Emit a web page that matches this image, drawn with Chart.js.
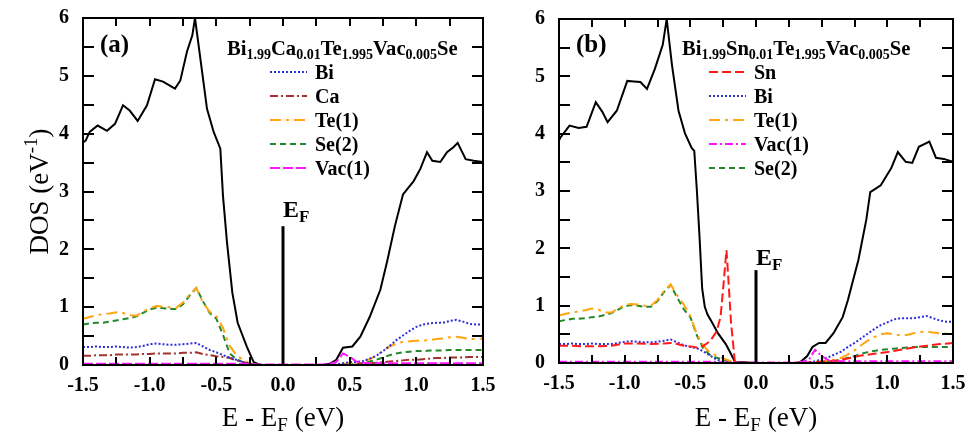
<!DOCTYPE html>
<html>
<head>
<meta charset="utf-8">
<script src="https://cdn.jsdelivr.net/npm/chart.js@4.4.0/dist/chart.umd.min.js"></script>
<style>
  html, body { margin: 0; padding: 0; background: #fff; }
  #wrap { position: relative; width: 970px; height: 438px; overflow: hidden; }
  .pane { position: absolute; top: 0; }
  .pane canvas { position: absolute; left: 0; top: 0; }
  .frame { position: absolute; box-sizing: border-box; border: 2px solid #000; }
  .tk { position: absolute; background: #000; }
</style>
</head>
<body>
<div id="wrap">
  <div class="pane" id="paneA" style="left:0;width:520px;height:438px">
    <canvas id="panelA" width="520" height="438"></canvas>
    <canvas id="overA" width="520" height="438"></canvas>
  </div>
  <div class="pane" id="paneB" style="left:490px;width:480px;height:438px">
    <canvas id="panelB" width="480" height="438"></canvas>
    <canvas id="overB" width="480" height="438"></canvas>
  </div>
</div>
<script>
const SERIF = '"Liberation Serif", "Times New Roman", serif';

// --- axes: labelled ticks and all tick marks ---
const xTicks = [-1.5, -1.0, -0.5, 0.0, 0.5, 1.0, 1.5];
const yTicks = [0, 1, 2, 3, 4, 5, 6];
const xTickPos = [-1.5, -1.25, -1.0, -0.75, -0.5, -0.25, 0.0, 0.25, 0.5, 0.75, 1.0, 1.25, 1.5];
const yTickPos = [0, 0.5, 1, 1.5, 2, 2.5, 3, 3.5, 4, 4.5, 5, 5.5, 6];

// --- energy grid for the projected DOS (eV) ---
const energy = [
  -1.50, -1.45, -1.40, -1.35, -1.30, -1.25, -1.20, -1.15, -1.10, -1.05,
  -1.00, -0.95, -0.90, -0.85, -0.80, -0.75, -0.70, -0.65, -0.60, -0.55,
  -0.50, -0.45, -0.40, -0.35, -0.30, -0.25, -0.20, -0.15, -0.10, -0.05,
   0.00,  0.05,  0.10,  0.15,  0.20,  0.25,  0.30,  0.35,  0.40,  0.45,
   0.50,  0.55,  0.60,  0.65,  0.70,  0.75,  0.80,  0.85,  0.90,  0.95,
   1.00,  1.05,  1.10,  1.15,  1.20,  1.25,  1.30,  1.35,  1.40,  1.45,
   1.50
];

// --- (a) Bi1.99Ca0.01Te1.995Vac0.005Se ---
const eTotalA = [-1.5, -1.48, -1.45, -1.39, -1.32, -1.26, -1.2, -1.15, -1.09, -1.02, -0.96, -0.9, -0.81, -0.77,
  -0.72, -0.68, -0.66, -0.62, -0.57, -0.52, -0.47, -0.45, -0.42, -0.38, -0.34, -0.27, -0.22, -0.17, 0.0, 0.3,
  0.35, 0.4, 0.45, 0.52, 0.58, 0.65, 0.73, 0.78, 0.84, 0.9, 0.98, 1.03, 1.08, 1.12, 1.18, 1.23, 1.28, 1.31,
  1.37, 1.43, 1.5];
const totalA = [3.85, 3.88, 4.03, 4.14, 4.05, 4.17, 4.49, 4.40, 4.22, 4.49, 4.94, 4.90, 4.78, 4.92,
  5.42, 5.70, 6.00, 5.30, 4.43, 4.03, 3.74, 2.92, 2.12, 1.25, 0.73, 0.31, 0.05, 0.00, 0.00, 0.00,
  0.02, 0.09, 0.30, 0.32, 0.49, 0.83, 1.30, 1.78, 2.41, 2.95, 3.18, 3.39, 3.68, 3.53, 3.51, 3.68, 3.77, 3.84,
  3.56, 3.53, 3.51];
const biA = [
  0.31, 0.31, 0.32, 0.31, 0.31, 0.32, 0.31, 0.30, 0.31, 0.33,
  0.36, 0.37, 0.36, 0.35, 0.35, 0.36, 0.37, 0.38, 0.32, 0.26,
  0.22, 0.17, 0.13, 0.09, 0.05, 0.02, 0.01, 0, 0, 0,
  0, 0, 0, 0, 0, 0, 0, 0, 0.01, 0.03,
  0.05, 0.05, 0.07, 0.11, 0.16, 0.24, 0.33, 0.43, 0.51, 0.59,
  0.66, 0.70, 0.72, 0.73, 0.73, 0.76, 0.78, 0.75, 0.71, 0.70,
  0.70];
const caA = [
  0.16, 0.16, 0.17, 0.17, 0.17, 0.18, 0.18, 0.18, 0.18, 0.19,
  0.19, 0.20, 0.20, 0.20, 0.20, 0.21, 0.21, 0.22, 0.19, 0.17,
  0.15, 0.14, 0.12, 0.08, 0.05, 0.02, 0, 0, 0, 0,
  0, 0, 0, 0, 0, 0, 0, 0, 0, 0,
  0, 0.01, 0.02, 0.03, 0.04, 0.05, 0.06, 0.07, 0.08, 0.09,
  0.09, 0.10, 0.11, 0.12, 0.12, 0.13, 0.13, 0.13, 0.14, 0.14,
  0.14];
const te1A = [
  0.80, 0.83, 0.86, 0.88, 0.89, 0.91, 0.90, 0.86, 0.85, 0.92,
  0.98, 1.02, 1.01, 1.00, 0.99, 1.08, 1.22, 1.33, 1.08, 0.92,
  0.85, 0.64, 0.33, 0.17, 0.09, 0.03, 0.01, 0, 0, 0,
  0, 0, 0, 0, 0, 0, 0, 0, 0.01, 0.02,
  0.03, 0.04, 0.06, 0.10, 0.16, 0.25, 0.32, 0.37, 0.40, 0.41,
  0.42, 0.42, 0.43, 0.45, 0.46, 0.48, 0.49, 0.47, 0.45, 0.45,
  0.46];
const se2A = [
  0.70, 0.72, 0.73, 0.73, 0.75, 0.77, 0.79, 0.81, 0.84, 0.90,
  0.96, 0.99, 0.98, 0.97, 0.97, 1.05, 1.20, 1.33, 1.10, 0.90,
  0.80, 0.52, 0.20, 0.10, 0.05, 0.02, 0.01, 0, 0, 0,
  0, 0, 0, 0, 0, 0, 0, 0, 0, 0,
  0.01, 0.02, 0.04, 0.06, 0.09, 0.13, 0.17, 0.20, 0.22, 0.23,
  0.24, 0.24, 0.25, 0.25, 0.25, 0.26, 0.26, 0.26, 0.26, 0.26,
  0.26];
const vac1A = [
  0.02, 0.02, 0.02, 0.02, 0.02, 0.02, 0.02, 0.02, 0.02, 0.02,
  0.02, 0.02, 0.02, 0.02, 0.02, 0.02, 0.02, 0.02, 0.02, 0.02,
  0.02, 0.02, 0.02, 0.02, 0.02, 0.01, 0.01, 0.01, 0.01, 0.01,
  0.01, 0.01, 0.01, 0.01, 0.01, 0.01, 0.01, 0.02, 0.05, 0.20,
  0.14, 0.06, 0.04, 0.03, 0.03, 0.03, 0.03, 0.03, 0.03, 0.03,
  0.03, 0.03, 0.03, 0.03, 0.03, 0.03, 0.03, 0.03, 0.03, 0.03,
  0.03];
const fermiA = [0, 2.4];

// --- (b) Bi1.99Sn0.01Te1.995Vac0.005Se ---
const eTotalB = [-1.5, -1.49, -1.42, -1.35, -1.29, -1.22, -1.17, -1.13, -1.06, -0.98, -0.93, -0.88, -0.83, -0.77,
  -0.71, -0.68, -0.64, -0.59, -0.54, -0.49, -0.47, -0.45, -0.43, -0.41, -0.39, -0.37, -0.33, -0.29, -0.23, -0.2,
  -0.16, 0.0, 0.3, 0.34, 0.39, 0.43, 0.48, 0.53, 0.59, 0.66, 0.7, 0.78, 0.84, 0.87, 0.95, 1.03, 1.08, 1.14,
  1.19, 1.24, 1.32, 1.37, 1.43, 1.5];
const totalB = [3.88, 3.93, 4.14, 4.10, 4.12, 4.55, 4.38, 4.20, 4.40, 4.92, 4.91, 4.90, 4.78, 5.13,
  5.55, 6.00, 5.20, 4.40, 4.00, 3.75, 3.70, 3.00, 2.20, 1.30, 0.98, 0.85, 0.69, 0.52, 0.33, 0.20,
  0.02, 0.00, 0.00, 0.02, 0.12, 0.28, 0.35, 0.35, 0.52, 0.80, 1.10, 1.80, 2.50, 2.98, 3.10, 3.40, 3.68, 3.51,
  3.49, 3.77, 3.86, 3.58, 3.56, 3.51];
const eSn = [-1.5, -1.4, -1.3, -1.2, -1.1, -1.0, -0.9, -0.8, -0.7, -0.65, -0.6, -0.55, -0.5, -0.45, -0.4, -0.35,
  -0.3, -0.27, -0.25, -0.225, -0.21, -0.19, -0.16, -0.1, 0.0, 0.1, 0.2, 0.3, 0.4, 0.5, 0.6, 0.7, 0.8, 0.9,
  1.0, 1.1, 1.2, 1.3, 1.4, 1.5];
const snB = [0.30, 0.30, 0.29, 0.29, 0.30, 0.34, 0.34, 0.33, 0.34, 0.35, 0.33, 0.30, 0.29, 0.27, 0.30, 0.38,
  0.55, 0.80, 1.30, 1.97, 1.45, 0.70, 0.00, 0, 0, 0, 0, 0, 0.01, 0.02, 0.04, 0.08, 0.13, 0.16,
  0.19, 0.23, 0.27, 0.30, 0.33, 0.35];
const biB = [
  0.33, 0.33, 0.34, 0.33, 0.33, 0.34, 0.33, 0.33, 0.33, 0.35,
  0.37, 0.38, 0.37, 0.36, 0.36, 0.37, 0.39, 0.41, 0.36, 0.31,
  0.28, 0.26, 0.20, 0.13, 0.06, 0.02, 0.01, 0, 0, 0,
  0, 0, 0, 0, 0, 0, 0, 0, 0.01, 0.03,
  0.06, 0.10, 0.15, 0.20, 0.28, 0.35, 0.43, 0.51, 0.59, 0.66,
  0.71, 0.76, 0.78, 0.78, 0.78, 0.80, 0.82, 0.78, 0.74, 0.72,
  0.72];
const te1B = [
  0.83, 0.86, 0.88, 0.90, 0.92, 0.95, 0.93, 0.88, 0.88, 0.95,
  1.01, 1.03, 1.02, 1.00, 1.00, 1.10, 1.26, 1.37, 1.18, 1.02,
  0.82, 0.50, 0.30, 0.18, 0.13, 0.08, 0.04, 0.01, 0, 0,
  0, 0, 0, 0, 0, 0, 0, 0, 0.01, 0.02,
  0.03, 0.04, 0.06, 0.09, 0.15, 0.22, 0.31, 0.39, 0.45, 0.50,
  0.52, 0.50, 0.48, 0.49, 0.52, 0.54, 0.55, 0.53, 0.52, 0.51,
  0.51];
const vac1B = [
  0.02, 0.02, 0.02, 0.02, 0.02, 0.02, 0.02, 0.02, 0.02, 0.02,
  0.02, 0.02, 0.02, 0.02, 0.02, 0.02, 0.02, 0.02, 0.02, 0.02,
  0.02, 0.02, 0.02, 0.02, 0.02, 0.01, 0.01, 0.01, 0.01, 0.01,
  0.01, 0.01, 0.01, 0.01, 0.01, 0.01, 0.01, 0.02, 0.05, 0.23,
  0.12, 0.05, 0.04, 0.03, 0.03, 0.03, 0.03, 0.03, 0.03, 0.03,
  0.03, 0.03, 0.03, 0.03, 0.03, 0.03, 0.03, 0.03, 0.03, 0.03,
  0.03];
const se2B = [
  0.73, 0.75, 0.77, 0.77, 0.78, 0.80, 0.81, 0.84, 0.87, 0.93,
  0.99, 1.01, 1.00, 0.98, 0.98, 1.08, 1.24, 1.36, 1.14, 0.94,
  0.80, 0.48, 0.25, 0.14, 0.09, 0.06, 0.02, 0.01, 0, 0,
  0, 0, 0, 0, 0, 0, 0, 0, 0, 0,
  0.01, 0.02, 0.03, 0.06, 0.09, 0.12, 0.16, 0.19, 0.21, 0.23,
  0.24, 0.25, 0.26, 0.27, 0.28, 0.28, 0.28, 0.28, 0.28, 0.28,
  0.28];
const fermiB = [0, 1.62];

const legendA = ["Bi", "Ca", "Te(1)", "Se(2)", "Vac(1)"];
const legendB = ["Sn", "Bi", "Te(1)", "Vac(1)", "Se(2)"];

// line styles per projection
const styles = {
  "Bi":     { color: "#2f2fd8", dash: [2, 2] },
  "Ca":     { color: "#a3302c", dash: [8, 3, 2, 3] },
  "Te(1)":  { color: "#ffa510", dash: [11, 5, 3, 5] },
  "Se(2)":  { color: "#22882a", dash: [6, 4] },
  "Vac(1)": { color: "#ff14ff", dash: [10, 3] },
  "Sn":     { color: "#ff1a1a", dash: [9, 4] }
};

const pts = (xs, ys) => xs.map((x, i) => ({ x, y: ys[i] }));

function pdos(label, xs, ys, dash) {
  const s = styles[label];
  return { label, data: pts(xs, ys), borderColor: s.color, borderWidth: 2,
           borderDash: dash || s.dash, pointRadius: 0, tension: 0, fill: false };
}
function solid(label, xs, ys, w) {
  return { label, data: pts(xs, ys), borderColor: "#000", borderWidth: w,
           pointRadius: 0, tension: 0, fill: false };
}

// text with sub/superscripts, parts = [[text, mode]], baseline at y
function drawRich(ctx, parts, x, y, size, weight, align) {
  const fontFor = s => `${weight} ${s}px ${SERIF}`;
  let w = 0;
  const items = parts.map(([t, m]) => {
    const s = m ? Math.round(size * 0.7) : size;
    ctx.font = fontFor(s);
    const tw = ctx.measureText(t).width;
    w += tw;
    return { t, m, s, tw };
  });
  let cx = align === "center" ? x - w / 2 : x;
  ctx.textAlign = "left";
  ctx.textBaseline = "alphabetic";
  for (const it of items) {
    ctx.font = fontFor(it.s);
    const dy = it.m === "sub" ? size * 0.2 : it.m === "sup" ? -size * 0.42 : 0;
    ctx.fillText(it.t, cx, y + dy);
    cx += it.tw;
  }
}

// box frame and inward ticks as page elements, placed with the chart's scales
function addFrame(chart, paneId) {
  const pane = document.getElementById(paneId);
  const sx = chart.scales.x, sy = chart.scales.y;
  const L = Math.round(sx.getPixelForValue(-1.5)), R = Math.round(sx.getPixelForValue(1.5));
  const T = Math.round(sy.getPixelForValue(6)), B = Math.round(sy.getPixelForValue(0));
  const box = (cls, l, t, w, h) => {
    const d = document.createElement("div");
    d.className = cls;
    d.style.left = l + "px"; d.style.top = t + "px";
    d.style.width = w + "px"; d.style.height = h + "px";
    pane.appendChild(d);
  };
  xTickPos.forEach(v => {
    const px = Math.round(sx.getPixelForValue(v));
    box("tk", px - 1, B - 8, 2, 8);
    box("tk", px - 1, T, 2, 8);
  });
  yTickPos.forEach(v => {
    const py = Math.round(sy.getPixelForValue(v));
    box("tk", L, py - 1, 11, 2);
    box("tk", R - 11, py - 1, 11, 2);
  });
  box("frame", L - 1, T - 1, R - L + 2, B - T + 2);
}

// legend, tag and titles on an overlay, placed with the chart's scales
function decorate(chart, overlayId, o) {
  const ctx = document.getElementById(overlayId).getContext("2d");
  const sx = chart.scales.x, sy = chart.scales.y;
  const L = sx.getPixelForValue(-1.5), R = sx.getPixelForValue(1.5);
  const T = sy.getPixelForValue(6), B = sy.getPixelForValue(0);

  ctx.fillStyle = "#000";
  ctx.font = `bold 25px ${SERIF}`;
  ctx.textAlign = "left";
  ctx.textBaseline = "alphabetic";
  ctx.fillText(o.tag, L + 17, 52);

  drawRich(ctx, o.title, L + o.titleDx, 55, 20.6, "bold", "left");

  o.legend.forEach((name, i) => {
    const ds = chart.data.datasets.find(d => d.label === name);
    const ly = 72 + i * 24;
    ctx.strokeStyle = ds.borderColor;
    ctx.lineWidth = 2;
    ctx.setLineDash(ds.borderDash || []);
    ctx.beginPath();
    ctx.moveTo(L + o.legendDx, ly);
    ctx.lineTo(L + o.legendDx + 37, ly);
    ctx.stroke();
    ctx.setLineDash([]);
    ctx.fillStyle = "#000";
    ctx.font = `bold 20px ${SERIF}`;
    ctx.fillText(name, L + o.legendDx + 45, ly + 7);
  });

  const fx = sx.getPixelForValue(0);
  const fy = sy.getPixelForValue(o.fermiTop);
  drawRich(ctx, [["E", ""], ["F", "sub"]], fx, fy - o.fermiGap, 24, "bold", "left");

  drawRich(ctx, [["E - E", ""], ["F", "sub"], [" (eV)", ""]], (L + R) / 2, 426, 27, "normal", "center");
  if (o.yTitle) {
    ctx.save();
    ctx.translate(48, (T + B) / 2);
    ctx.rotate(-Math.PI / 2);
    drawRich(ctx, [["DOS (eV", ""], ["-1", "sup"], [")", ""]], 0, 0, 27, "normal", "center");
    ctx.restore();
  }
}

function makeChart(id, datasets, fit) {
  return new Chart(document.getElementById(id), {
    type: "line",
    data: { datasets },
    options: {
      responsive: false,
      animation: false,
      events: [],
      layout: { autoPadding: false, padding: { top: fit.top, right: fit.right, bottom: 0, left: 0 } },
      plugins: { legend: { display: false }, tooltip: { enabled: false } },
      scales: {
        x: {
          type: "linear", min: -1.5, max: 1.5,
          afterBuildTicks: s => { s.ticks = xTicks.map(v => ({ value: v })); },
          afterFit: s => { s.height = fit.xh; s.paddingLeft = 0; s.paddingRight = 0; },
          grid: { display: false, drawTicks: false },
          border: { display: false },
          ticks: { color: "#000", padding: 9, maxRotation: 0, autoSkip: false,
                   font: { family: SERIF, weight: "bold", size: 20 },
                   callback: v => v.toFixed(1) }
        },
        y: {
          type: "linear", min: 0, max: 6,
          afterBuildTicks: s => { s.ticks = yTicks.map(v => ({ value: v })); },
          afterFit: s => { s.width = fit.yw; s.paddingTop = 0; s.paddingBottom = 0; },
          grid: { display: false, drawTicks: false },
          border: { display: false },
          ticks: { color: "#000", padding: 14,
                   font: { family: SERIF, weight: "bold", size: 20 } }
        }
      }
    }
  });
}

const chartA = makeChart("panelA", [
  pdos("Vac(1)", energy, vac1A),
  pdos("Bi", energy, biA),
  pdos("Ca", energy, caA),
  pdos("Te(1)", energy, te1A),
  pdos("Se(2)", energy, se2A),
  solid("E_F", [0, 0], fermiA, 3),
  solid("Total", eTotalA, totalA, 2)
], { top: 18, right: 37, xh: 73, yw: 83 });
addFrame(chartA, "paneA");
decorate(chartA, "overA", {
  tag: "(a)", titleDx: 144, legendDx: 187, legend: legendA, fermiTop: fermiA[1], fermiGap: 9, yTitle: true,
  title: [["Bi", ""], ["1.99", "sub"], ["Ca", ""], ["0.01", "sub"], ["Te", ""], ["1.995", "sub"],
          ["Vac", ""], ["0.005", "sub"], ["Se", ""]]
});

const chartB = makeChart("panelB", [
  pdos("Vac(1)", energy, vac1B, [8, 3, 2, 3]),
  pdos("Sn", eSn, snB),
  pdos("Bi", energy, biB),
  pdos("Te(1)", energy, te1B),
  pdos("Se(2)", energy, se2B),
  solid("E_F", [0, 0], fermiB, 3),
  solid("Total", eTotalB, totalB, 2)
], { top: 19, right: 17, xh: 75, yw: 69 });
addFrame(chartB, "paneB");
decorate(chartB, "overB", {
  tag: "(b)", titleDx: 123, legendDx: 150, legend: legendB, fermiTop: fermiB[1], fermiGap: 5, yTitle: false,
  title: [["Bi", ""], ["1.99", "sub"], ["Sn", ""], ["0.01", "sub"], ["Te", ""], ["1.995", "sub"],
          ["Vac", ""], ["0.005", "sub"], ["Se", ""]]
});
</script>
</body>
</html>
